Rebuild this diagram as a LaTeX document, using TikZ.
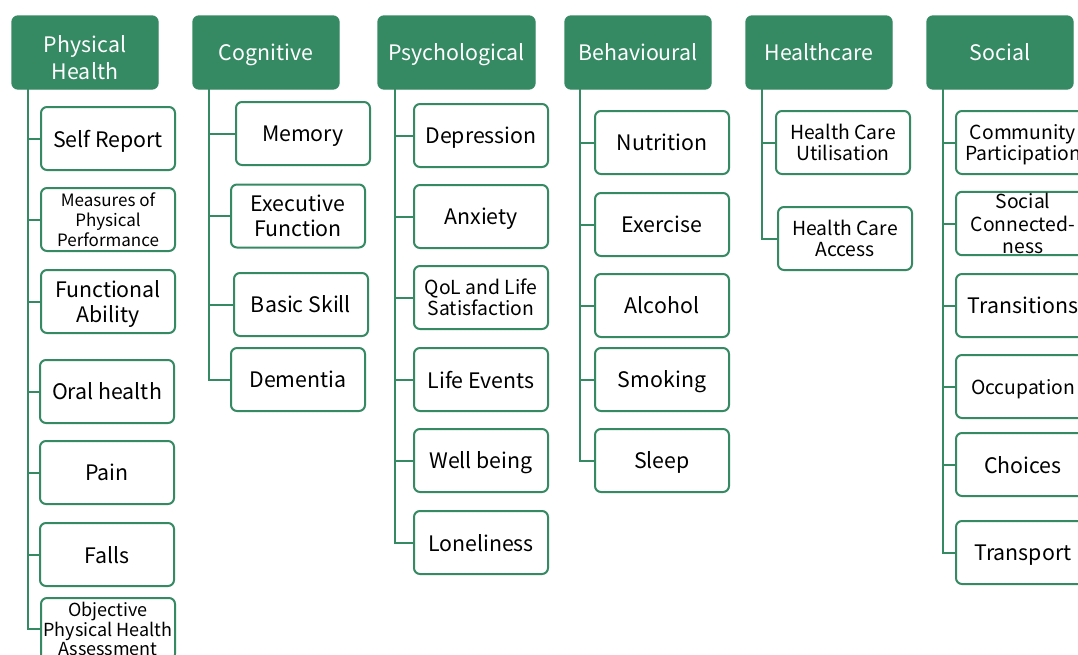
\documentclass[tikz,border=0pt]{standalone}
\usepackage{fontspec}
\setmainfont{Noto Sans CJK SC}
\definecolor{grn}{HTML}{358A63}
\begin{document}
\begin{tikzpicture}[x=0.75pt,y=-0.75pt,
 hdr/.style={fill=grn, draw=grn, line width=1pt, rounded corners=4.5pt, text=white, font=\fontsize{16}{20}\selectfont, align=center, minimum width=109.5pt, minimum height=54.75pt, inner sep=2pt, text depth=0pt},
 hdrtext/.style={text=white, font=\fontsize{16}{20.5}\selectfont, align=center, inner sep=0pt},
 leaf/.style={fill=white, draw=grn, line width=1.5pt, rounded corners=4.5pt, font=\fontsize{16}{18.5}\selectfont, align=center, minimum width=100.5pt, minimum height=47.25pt, inner sep=1pt, text depth=0pt},
 small/.style={font=\fontsize{12.75}{15}\selectfont},
 mid/.style={font=\fontsize{14.5}{16}\selectfont},
 conn/.style={draw=grn, line width=1.5pt}]
\useasboundingbox (0,0) rectangle (1078,654);
\clip (0,0) rectangle (1078,654);

% headers
\node[hdr] (ph) at (85,52.5) {};
\node[hdrtext] (pht) at (85,57.5) {Physical\\Health};
\node[hdr] (cg) at (266,52.5) {Cognitive};
\node[hdr, minimum width=117.75pt] (ps) at (456.5,52.5) {Psychological};
\node[hdr] (bh) at (638,52.5) {Behavioural};
\node[hdr] (hc) at (819,52.5) {Healthcare};
\node[hdr] (so) at (1000,52.5) {Social};

\coordinate (phs) at (28,89);
\coordinate (cgs) at (209,89);
\coordinate (pss) at (395,89);
\coordinate (bhs) at (580,89);
\coordinate (hcs) at (762,89);
\coordinate (sos) at (943,89);

% Physical Health
\node[leaf] (p1) at (108,138.5) {Self Report};
\node[leaf, small] (p2) at (108,219.5) {Measures of\\Physical\\Performance};
\node[leaf] (p3) at (108,301.5) {Functional\\Ability};
\node[leaf] (p4) at (107,391.5) {Oral health};
\node[leaf] (p5) at (107,472.5) {Pain};
\node[leaf] (p6) at (107,554.5) {Falls};
\node[leaf, font=\fontsize{13.5}{14.5}\selectfont, minimum height=46.5pt] (p7) at (108,629) {Objective\\Physical Health\\Assessment};

% Cognitive
\node[leaf] (c1) at (303,133.5) {Memory};
\node[leaf] (c2) at (298,216) {Executive\\Function};
\node[leaf] (c3) at (301,304.5) {Basic Skill};
\node[leaf] (c4) at (298,379.5) {Dementia};

% Psychological
\node[leaf] (s1) at (481,135.5) {Depression};
\node[leaf] (s2) at (481,216.5) {Anxiety};
\node[leaf, mid] (s3) at (481,297.5) {QoL and Life\\Satisfaction};
\node[leaf] (s4) at (481,379.5) {Life Events};
\node[leaf] (s5) at (481,460.5) {Well being};
\node[leaf] (s6) at (481,542.5) {Loneliness};

% Behavioural
\node[leaf] (b1) at (662,142.5) {Nutrition};
\node[leaf] (b2) at (662,224.5) {Exercise};
\node[leaf] (b3) at (662,305.5) {Alcohol};
\node[leaf] (b4) at (662,379.5) {Smoking};
\node[leaf] (b5) at (662,460.5) {Sleep};

% Healthcare
\node[leaf, mid] (h1) at (843,142.5) {Health Care\\Utilisation};
\node[leaf, mid] (h2) at (845,238.5) {Health Care\\Access};

% Social
\node[leaf, mid] (o1) at (1023,142.5) {Community\\Participation};
\node[leaf, font=\fontsize{14.5}{17}\selectfont] (o2) at (1023,223.5) {Social\\Connected-\\ness};
\node[leaf] (o3) at (1023,305.5) {Transitions};
\node[leaf, mid] (o4) at (1023,386.5) {Occupation};
\node[leaf] (o5) at (1023,464.5) {Choices};
\node[leaf] (o6) at (1023,552.5) {Transport};

% connectors
\foreach \c in {p1,p2,p3,p4,p5,p6,p7} \draw[conn] (phs) |- (\c.west);
\foreach \c in {c1,c2,c3,c4} \draw[conn] (cgs) |- (\c.west);
\foreach \c in {s1,s2,s3,s4,s5,s6} \draw[conn] (pss) |- (\c.west);
\foreach \c in {b1,b2,b3,b4,b5} \draw[conn] (bhs) |- (\c.west);
\foreach \c in {h1,h2} \draw[conn] (hcs) |- (\c.west);
\foreach \c in {o1,o2,o3,o4,o5,o6} \draw[conn] (sos) |- (\c.west);
\end{tikzpicture}
\end{document}
